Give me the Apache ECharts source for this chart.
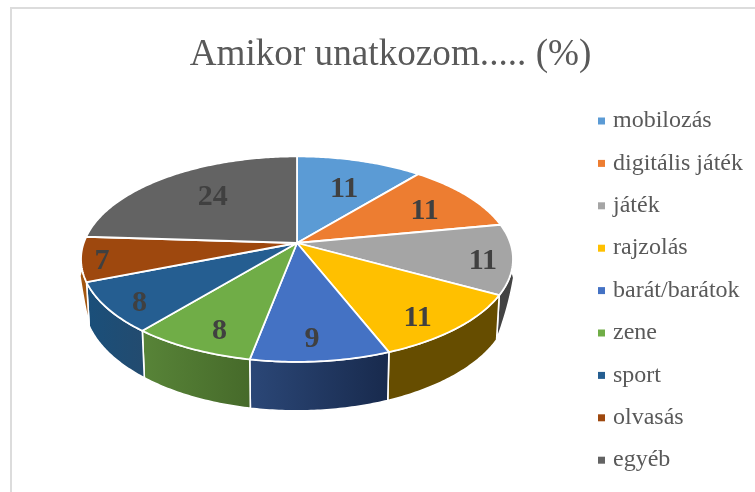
<!DOCTYPE html>
<html>
<head>
<meta charset="utf-8">
<style>html,body{margin:0;padding:0;background:#fff}#c{width:755px;height:492px}</style>
<script src="https://cdn.jsdelivr.net/npm/echarts@6/dist/echarts.min.js"></script>
</head>
<body>
<div id="c"></div>
<script>
const titleText = 'Amikor unatkozom..... (%)';
const categories = ['mobilozás','digitális játék','játék','rajzolás','barát/barátok','zene','sport','olvasás','egyéb'];
const values = [11,11,11,11,9,8,8,7,24];
const topColors = ['#5B9BD5','#ED7D31','#A5A5A5','#FFC000','#4472C4','#70AD47','#255E91','#9E480E','#636363'];
const wallLeft  = ['#37618a','#8f4b1e','#434343','#664d00','#2b4777','#588438','#1a4f7a','#a3560f','#3b3b3b'];
const wallRight = ['#37618a','#8f4b1e','#434343','#664d00','#182a4d','#466a2a','#234b6f','#a3560f','#3b3b3b'];
// label placement on the pie disc: radius fraction and bearing in degrees
const labelRadius = [.652,.728,.864,.831,.822,.825,.862,.905,.665];
const labelBearing = [21.8,60.3,100.5,142.4,175.7,202.8,231.7,260,320.1];

// perspective of the disc
const CX = 297, CY = 243, A = 213.3, B = 100.2, P = 0.157, H = 41.3, SHRINK = 0.013, FLARE = 3;
const WALL_FROM = 105, WALL_FULL_FROM = 118.8, WALL_FULL_TO = 248.4, WALL_TO = 256;
const total = values.reduce((a, b) => a + b, 0);
const rad = d => d * Math.PI / 180;

function project(r, deg) {
  const u = r * Math.sin(rad(deg)), v = -r * Math.cos(rad(deg)), w = 1 - P * v;
  return { x: CX + A * u / w, y: CY + B * v / w, w };
}
function taper(deg) {
  if (deg < WALL_FULL_FROM) return 0.18 + 0.82 * (deg - WALL_FROM) / (WALL_FULL_FROM - WALL_FROM);
  if (deg > WALL_FULL_TO) return 1 - 0.82 * (deg - WALL_FULL_TO) / (WALL_TO - WALL_FULL_TO);
  return 1;
}
function arc(from, to) {
  const n = Math.max(2, Math.ceil((to - from) / 0.75)), pts = [];
  for (let k = 0; k < n + 1; k++) pts.push(from + (to - from) * k / n);
  return pts;
}
function renderSlice(i, value) {
  let before = 0;
  for (let k = 0; k < i; k++) before += values[k];
  const start = before / total * 360, end = (before + value) / total * 360;
  const children = [];
  const topPts = [[CX, CY]];
  arc(start, end).forEach(d => { const p = project(1, d); topPts.push([p.x, p.y]); });
  const from = Math.max(start, WALL_FROM), to = Math.min(end, WALL_TO);
  if (to > from) {
    const degs = arc(from, to);
    const rim = degs.map(d => { const p = project(1, d); return [p.x, p.y]; });
    const base = degs.map(d => {
      const p = project(1, d), t = taper(d);
      const flare = (1 - t) * FLARE * Math.sign(p.x - CX);
      return [CX + (p.x - CX) * (1 - SHRINK * t) + flare, p.y + H / p.w * t];
    });
    const pts = rim.concat(base.reverse());
    const xs = pts.map(q => q[0]);
    children.push({
      type: 'polygon', z2: 1,
      shape: { points: pts },
      style: {
        fill: { type: 'linear', global: true, x: Math.min(...xs), y: 0, x2: Math.max(...xs), y2: 0,
          colorStops: [{ offset: 0, color: wallLeft[i] }, { offset: 1, color: wallRight[i] }] },
        stroke: '#fff', lineWidth: 1.6, lineJoin: 'round'
      }
    });
  }
  children.push({
    type: 'polygon', z2: 10,
    shape: { points: topPts },
    style: { fill: topColors[i], stroke: '#fff', lineWidth: 1.8, lineJoin: 'round' }
  });
  const lp = project(labelRadius[i], labelBearing[i]);
  children.push({
    type: 'text', z2: 20,
    style: { text: String(value), x: lp.x, y: lp.y + 2, align: 'center', verticalAlign: 'middle',
      font: 'bold 30px "Liberation Serif"', fill: '#404040' }
  });
  return { type: 'group', children };
}

const chart = echarts.init(document.getElementById('c'), null, { renderer: 'canvas' });
chart.setOption({
  animation: false,
  backgroundColor: '#fff',
  color: topColors,
  title: {
    text: titleText, left: 385.5, top: 32, textAlign: 'center',
    textStyle: { fontFamily: 'Liberation Serif', fontSize: 37.2, fontWeight: 'normal', color: '#595959' }
  },
  legend: {
    orient: 'vertical', left: 593, top: 104, padding: 5, icon: 'rect',
    itemWidth: 7, itemHeight: 7, itemGap: 18.4, selectedMode: false,
    data: categories,
    textStyle: { fontFamily: 'Liberation Serif', fontSize: 24, color: '#595959', lineHeight: 22, padding: [0, 0, 0, 3] }
  },
  graphic: [
    { type: 'rect', shape: { x: 10, y: 7, width: 745, height: 2 }, style: { fill: '#dcdcdc' }, silent: true },
    { type: 'rect', shape: { x: 10, y: 7, width: 2, height: 485 }, style: { fill: '#dcdcdc' }, silent: true }
  ],
  series: categories.map((name, i) => ({
    type: 'custom', name, coordinateSystem: 'none', silent: true,
    itemStyle: { color: topColors[i] },
    data: [values[i]],
    renderItem: (params, api) => renderSlice(i, api.value(0))
  }))
});
</script>
</body>
</html>
